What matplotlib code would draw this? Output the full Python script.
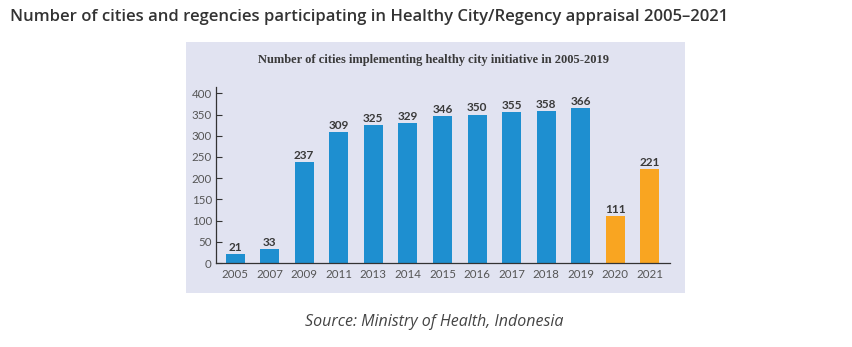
import matplotlib.pyplot as plt
from matplotlib.patches import Rectangle

# Participating cities/regencies per year
years = ["2005", "2007", "2009", "2011", "2013", "2014", "2015",
         "2016", "2017", "2018", "2019", "2020", "2021"]
cities = [21, 33, 237, 309, 325, 329, 346, 350, 355, 358, 366, 111, 221]
highlight = ["2020", "2021"]

blue = "#1e8fd0"
orange = "#f9a521"
panel_bg = "#e1e3f1"

fig = plt.figure(figsize=(8.53, 3.47), dpi=100)
W, H = 853, 347

# shaded panel behind the chart
bg = fig.add_axes([186 / W, 1 - 293 / H, (685 - 186) / W, (293 - 42) / H])
bg.set_zorder(0)
bg.add_patch(Rectangle((0, 0), 1, 1, transform=bg.transAxes,
                       facecolor=panel_bg, edgecolor="none"))
bg.axis("off")

ax = fig.add_axes([216 / W, 84 / H, (670 - 216) / W, (260 - 84) / H])
ax.set_zorder(1)
ax.set_facecolor("none")

x = range(len(years))
colors = [orange if y in highlight else blue for y in years]
bars = ax.bar(x, cities, width=0.55, color=colors, zorder=2)

for xi, v in zip(x, cities):
    ax.text(xi, v + 3, str(v), ha="center", va="bottom", fontsize=8.5,
            fontweight="bold", color="#3a3a3a", family="Lato")

ax.set_xlim(-0.55, 12.58)
ax.set_ylim(0, 415)
ax.set_yticks(range(0, 401, 50))
ax.set_xticks(list(x))
ax.set_xticklabels(years)

for s in ["top", "right"]:
    ax.spines[s].set_visible(False)
for s in ["left", "bottom"]:
    ax.spines[s].set_color("#333333")
    ax.spines[s].set_linewidth(0.9)

ax.tick_params(axis="y", direction="in", length=4, width=0.8, color="#333333",
               labelsize=8.3, labelcolor="#555555", pad=3)
ax.tick_params(axis="x", length=0, labelsize=8.3, labelcolor="#555555", pad=4)
for lab in ax.get_xticklabels() + ax.get_yticklabels():
    lab.set_family("Lato")

fig.text(434 / W, 1 - 60 / H, "Number of cities implementing healthy city initiative in 2005-2019",
         ha="center", va="center", fontsize=9, fontweight="bold",
         family="Liberation Serif", color="#3a3a3a")

fig.text(10 / W, 1 - 17 / H,
         "Number of cities and regencies participating in Healthy City/Regency appraisal 2005\u20132021",
         ha="left", va="center", fontsize=12, fontweight="semibold",
         family="Open Sans", color="#333333")

fig.text(434 / W, 1 - 322 / H, "Source: Ministry of Health, Indonesia",
         ha="center", va="center", fontsize=11.5, style="italic",
         family="Open Sans", color="#444444")

fig.savefig("out.png", dpi=100)
